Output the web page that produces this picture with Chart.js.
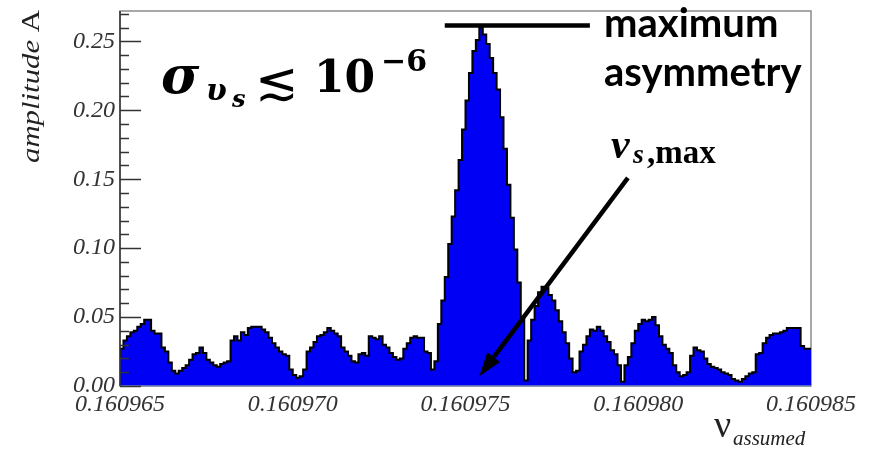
<!DOCTYPE html>
<html>
<head>
<meta charset="utf-8">
<script src="https://cdn.jsdelivr.net/npm/chart.js@4.4.0/dist/chart.umd.min.js"></script>
<style>
  html, body { margin: 0; padding: 0; background: #fff; }
  #wrap { width: 870px; height: 449px; }
</style>
</head>
<body>
<div id="wrap"><canvas id="chart" width="870" height="449"></canvas></div>
<script>
// axis ranges and ticks
const xMin = 0.160965;
const xMax = 0.160985;
const xTicks = [0.160965, 0.160970, 0.160975, 0.160980, 0.160985];
const yTicks = [0.00, 0.05, 0.10, 0.15, 0.20, 0.25];
const yMinorStep = 0.01;
const yMax = 0.272;

// amplitude per bin (200 bins between xMin and xMax)
const amplitude = [
  0.020, 0.027, 0.033, 0.036, 0.039, 0.040, 0.043, 0.045, 0.048, 0.048,
  0.040, 0.038, 0.038, 0.028, 0.025, 0.017, 0.011, 0.009, 0.011, 0.013,
  0.015, 0.019, 0.023, 0.024, 0.028, 0.024, 0.019, 0.017, 0.015, 0.014,
  0.016, 0.017, 0.018, 0.033, 0.036, 0.033, 0.039, 0.037, 0.042, 0.043,
  0.043, 0.043, 0.041, 0.039, 0.035, 0.031, 0.028, 0.025, 0.023, 0.022,
  0.012, 0.008, 0.006, 0.007, 0.012, 0.025, 0.028, 0.032, 0.036, 0.037,
  0.039, 0.042, 0.040, 0.038, 0.036, 0.028, 0.025, 0.022, 0.018, 0.017,
  0.023, 0.024, 0.022, 0.036, 0.035, 0.034, 0.036, 0.030, 0.028, 0.024,
  0.021, 0.019, 0.020, 0.027, 0.031, 0.035, 0.036, 0.035, 0.035, 0.025,
  0.024, 0.012, 0.018, 0.045, 0.062, 0.079, 0.103, 0.123, 0.142, 0.164,
  0.186, 0.207, 0.227, 0.243, 0.251, 0.260, 0.255, 0.248, 0.238, 0.227,
  0.215, 0.195, 0.172, 0.146, 0.122, 0.099, 0.075, 0.050, 0.004, 0.033,
  0.048, 0.058, 0.068, 0.072, 0.071, 0.066, 0.062, 0.055, 0.047, 0.039,
  0.031, 0.020, 0.010, 0.011, 0.025, 0.030, 0.036, 0.041, 0.040, 0.043,
  0.040, 0.036, 0.032, 0.026, 0.023, 0.015, 0.003, 0.015, 0.021, 0.031,
  0.040, 0.045, 0.048, 0.047, 0.048, 0.050, 0.044, 0.036, 0.030, 0.027,
  0.024, 0.015, 0.010, 0.007, 0.008, 0.010, 0.022, 0.028, 0.026, 0.025,
  0.020, 0.016, 0.014, 0.013, 0.012, 0.010, 0.009, 0.008, 0.005, 0.004,
  0.003, 0.005, 0.007, 0.009, 0.010, 0.023, 0.024, 0.031, 0.035, 0.037,
  0.038, 0.038, 0.039, 0.040, 0.042, 0.042, 0.042, 0.042, 0.029, 0.027
];

// annotation anchors (data coords)
const peakBar = [0.1609744, 0.1609786];
const arrowFrom = [0.1609797, 0.151];
const arrowTo = [0.1609754, 0.007];

const binW = (xMax - xMin) / amplitude.length;
const histPoints = amplitude.map((v, i) => ({ x: xMin + i * binW, y: v }));
histPoints.push({ x: xMax, y: amplitude[amplitude.length - 1] });

const serif = '"Liberation Serif", "Times New Roman", serif';
const dvs = '"DejaVu Serif", serif';

function drawText(ctx, txt, x, y, font) {
  ctx.font = font;
  ctx.fillText(txt, x, y);
  return ctx.measureText(txt).width;
}

const rootStyle = {
  id: 'rootStyle',
  beforeDatasetsDraw(chart) {
    const { ctx, chartArea: a } = chart;
    ctx.save();
    ctx.strokeStyle = '#8c8c8c';
    ctx.lineWidth = 1.5;
    ctx.strokeRect(a.left, a.top, a.right - a.left, a.bottom - a.top);
    ctx.restore();
  },
  afterDatasetsDraw(chart) {
    const { ctx, chartArea: a } = chart;
    const ys = chart.scales.y;
    ctx.save();
    // axis lines
    ctx.strokeStyle = '#7f8fb0';
    ctx.lineWidth = 1.5;
    ctx.beginPath(); ctx.moveTo(a.left, a.bottom); ctx.lineTo(a.right, a.bottom); ctx.stroke();
    ctx.strokeStyle = '#333';
    ctx.beginPath(); ctx.moveTo(a.left, a.top); ctx.lineTo(a.left, a.bottom); ctx.stroke();
    // inward ticks on the y axis
    for (let k = 0; k * yMinorStep <= yMax; k++) {
      const py = Math.round(ys.getPixelForValue(k * yMinorStep)) + 0.5;
      const len = k % 5 === 0 ? 21 : 9;
      ctx.beginPath(); ctx.moveTo(a.left, py); ctx.lineTo(a.left + len, py); ctx.stroke();
    }
    ctx.restore();
  },
  afterDraw(chart) {
    const { ctx } = chart;
    const xs = chart.scales.x, ys = chart.scales.y;
    ctx.save();
    ctx.textBaseline = 'alphabetic';

    // y title: "amplitude A", rotated, aligned to the top
    ctx.save();
    ctx.translate(39, 163);
    ctx.rotate(-Math.PI / 2);
    ctx.font = 'italic 25px ' + serif;
    const w1 = ctx.measureText('amplitude').width;
    ctx.font = '25px ' + serif;
    const w2 = ctx.measureText(' A').width;
    ctx.scale(153 / (w1 + w2), 1);
    ctx.fillStyle = '#222';
    drawText(ctx, 'amplitude', 0, 0, 'italic 25px ' + serif);
    drawText(ctx, ' A', w1, 0, '25px ' + serif);
    ctx.restore();

    // x title: nu_assumed
    ctx.fillStyle = '#222';
    drawText(ctx, 'ν', 714, 437, '38px ' + serif);
    drawText(ctx, 'assumed', 733, 445, 'italic 21px ' + serif);

    // sigma_{v_s} <~ 10^-6
    ctx.fillStyle = '#000';
    drawText(ctx, 'σ', 161, 93, 'italic bold 52px ' + dvs);
    drawText(ctx, 'υ', 206, 100, 'italic bold 30px ' + dvs);
    drawText(ctx, 's', 232, 107, 'italic bold 24px ' + dvs);
    drawText(ctx, '≲', 255, 99, '52px "DejaVu Sans", sans-serif');
    drawText(ctx, '10', 314, 92, 'bold 44px ' + dvs);
    drawText(ctx, '−6', 381, 71, 'bold 30px ' + dvs);

    // maximum asymmetry
    drawText(ctx, 'maximum', 604, 37, 'bold 40px Lato, "Open Sans", sans-serif');
    drawText(ctx, 'asymmetry', 604, 86, 'bold 40px Lato, "Open Sans", sans-serif');

    // nu_{s,max}
    drawText(ctx, 'ν', 611, 158, 'italic bold 42px ' + serif);
    drawText(ctx, 's', 633, 163, 'italic bold 28px ' + serif);
    drawText(ctx, ',max', 647, 163, 'bold 33px ' + serif);

    // bar at the maximum
    const peak = Math.max(...amplitude);
    const by = ys.getPixelForValue(peak) - 2;
    ctx.strokeStyle = '#000';
    ctx.lineWidth = 4.5;
    ctx.beginPath();
    ctx.moveTo(xs.getPixelForValue(peakBar[0]), by);
    ctx.lineTo(xs.getPixelForValue(peakBar[1]), by);
    ctx.stroke();

    // arrow to nu_s,max
    const x0 = xs.getPixelForValue(arrowFrom[0]), y0 = ys.getPixelForValue(arrowFrom[1]);
    const x1 = xs.getPixelForValue(arrowTo[0]), y1 = ys.getPixelForValue(arrowTo[1]);
    const ang = Math.atan2(y1 - y0, x1 - x0);
    const hl = 24, hw = 8;
    const bx = x1 - hl * Math.cos(ang), byy = y1 - hl * Math.sin(ang);
    ctx.beginPath(); ctx.moveTo(x0, y0); ctx.lineTo(bx, byy); ctx.stroke();
    ctx.beginPath();
    ctx.moveTo(x1, y1);
    ctx.lineTo(bx + hw * Math.sin(ang), byy - hw * Math.cos(ang));
    ctx.lineTo(bx - hw * Math.sin(ang), byy + hw * Math.cos(ang));
    ctx.closePath();
    ctx.fill();
    ctx.restore();
  }
};

const tickFont = { family: serif, style: 'italic', size: 24, lineHeight: 1 };

new Chart(document.getElementById('chart'), {
  type: 'line',
  data: {
    datasets: [{
      data: histPoints,
      stepped: 'after',
      fill: 'origin',
      backgroundColor: '#0000f4',
      borderColor: '#000',
      borderWidth: 2,
      pointRadius: 0,
      tension: 0
    }]
  },
  options: {
    responsive: false,
    animation: false,
    devicePixelRatio: 1,
    layout: { padding: { top: 11, right: 59, left: 0, bottom: 0 } },
    plugins: { legend: { display: false }, tooltip: { enabled: false } },
    scales: {
      x: {
        type: 'linear',
        min: xMin,
        max: xMax,
        grid: { display: false, drawTicks: false },
        border: { display: false },
        afterBuildTicks: s => { s.ticks = xTicks.map(v => ({ value: v })); },
        afterFit: s => { s.height = 63; s.paddingLeft = 0; s.paddingRight = 0; },
        ticks: {
          callback: v => Number(v).toFixed(6),
          font: tickFont,
          color: '#333',
          padding: 7,
          maxRotation: 0,
          autoSkip: false
        }
      },
      y: {
        type: 'linear',
        min: 0,
        max: yMax,
        grid: { display: false, drawTicks: false },
        border: { display: false },
        afterBuildTicks: s => { s.ticks = yTicks.map(v => ({ value: v })); },
        afterFit: s => { s.width = 120; s.paddingTop = 0; s.paddingBottom = 0; },
        ticks: {
          callback: v => Number(v).toFixed(2),
          font: tickFont,
          color: '#333',
          padding: 5
        }
      }
    }
  },
  plugins: [rootStyle]
});
</script>
</body>
</html>
